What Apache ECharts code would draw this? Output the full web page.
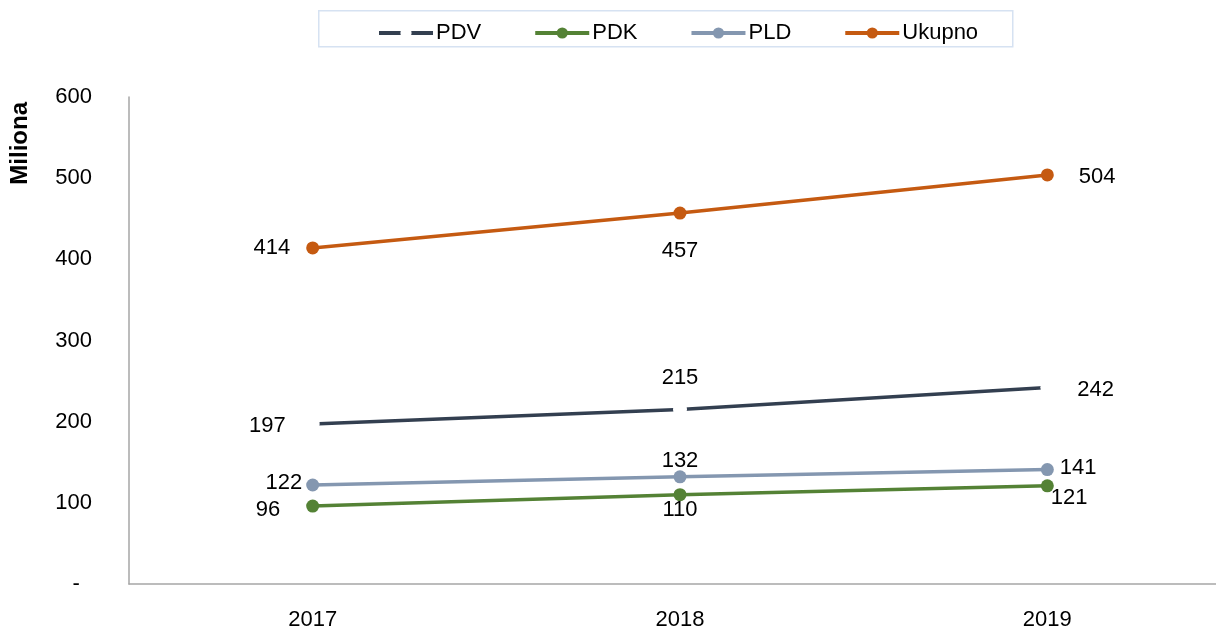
<!DOCTYPE html>
<html><head><meta charset="utf-8">
<script src="https://cdn.jsdelivr.net/npm/echarts@6/dist/echarts.min.js"></script>
<style>html,body{margin:0;padding:0;background:#fff;overflow:hidden}#c{width:1231px;height:631px}</style>
</head><body><div id="c"></div>
<script>
const categories = ['2017', '2018', '2019'];
const pdv = [197, 215, 242];
const pdk = [96, 110, 121];
const pld = [122, 132, 141];
const ukupno = [414, 457, 504];
const yTicks = [0, 100, 200, 300, 400, 500, 600];

const F = 'Liberation Sans, Arial, sans-serif';
const FS = 22;
const chart = echarts.init(document.getElementById('c'));
function mkData(arr, pos, offs) {
  return arr.map((v, i) => ({ value: v, label: { position: pos[i], offset: offs ? offs[i] : [0, 0] } }));
}
chart.setOption({
  animation: false,
  graphic: [
    { type: 'rect', left: 318, top: 10, shape: { width: 694, height: 36 },
      style: { fill: '#fff', stroke: '#d6e2f2', lineWidth: 1.5 } },
    { type: 'text', left: 8, top: 102, rotation: Math.PI / 2,
      style: { text: 'Miliona', font: 'bold 24px ' + F, fill: '#000' } }
  ],
  legend: {
    top: 17, left: 372, itemWidth: 54, itemHeight: 14, itemGap: 52,
    lineStyle: { width: 4 },
    textStyle: { fontFamily: F, fontSize: FS, color: '#000', padding: [0, 0, 0, -2] },
    data: ['PDV', 'PDK', 'PLD', 'Ukupno']
  },
  grid: { left: 129, top: 97, right: 0, bottom: 46, containLabel: false },
  xAxis: {
    type: 'category', data: categories, boundaryGap: true,
    axisLine: { lineStyle: { color: '#a6a6a6', width: 1.5 } },
    axisTick: { show: false },
    axisLabel: { fontFamily: F, fontSize: FS, color: '#000', margin: 25 }
  },
  yAxis: {
    type: 'value', min: 0, max: 600, interval: 100,
    axisLine: { show: true, lineStyle: { color: '#a6a6a6', width: 1.5 } },
    axisTick: { show: false },
    splitLine: { show: false },
    axisLabel: { fontFamily: F, fontSize: FS, color: '#000', margin: 37,
      formatter: v => yTicks.includes(v) ? (v === 0 ? '-  ' : String(v)) : '' }
  },
  series: [
    { name: 'PDV', type: 'line', data: mkData(pdv, ['left', 'top', 'right'], [[-6, 2], [0, 0], [9, 2]]),
      color: '#333f50', lineStyle: { width: 3.5, color: '#333f50' },
      symbol: 'circle', symbolSize: 14,
      itemStyle: { color: '#ffffff', borderWidth: 0 },
      label: { show: true, fontFamily: F, fontSize: FS, color: '#000', distance: 14 },
      z: 3 },
    { name: 'PDK', type: 'line', data: mkData(pdk, ['left', 'bottom', 'right'], [[-18, 4], [0, -10], [-11, 12]]),
      color: '#548235', lineStyle: { width: 3.5, color: '#548235' },
      symbol: 'circle', symbolSize: 13, itemStyle: { color: '#548235' },
      label: { show: true, fontFamily: F, fontSize: FS, color: '#000', distance: 8 } },
    { name: 'PLD', type: 'line', data: mkData(pld, ['left', 'top', 'right'], [[4, -2], [0, 10], [-2, -2]]),
      color: '#8497b0', lineStyle: { width: 3.5, color: '#8497b0' },
      symbol: 'circle', symbolSize: 13, itemStyle: { color: '#8497b0' },
      label: { show: true, fontFamily: F, fontSize: FS, color: '#000', distance: 8 } },
    { name: 'Ukupno', type: 'line', data: mkData(ukupno, ['left', 'bottom', 'right'], [[0, 0], [0, 4], [9, 2]]),
      color: '#c55a11', lineStyle: { width: 3.5, color: '#c55a11' },
      symbol: 'circle', symbolSize: 13, itemStyle: { color: '#c55a11' },
      label: { show: true, fontFamily: F, fontSize: FS, color: '#000', distance: 16 } }
  ]
});
</script></body></html>
